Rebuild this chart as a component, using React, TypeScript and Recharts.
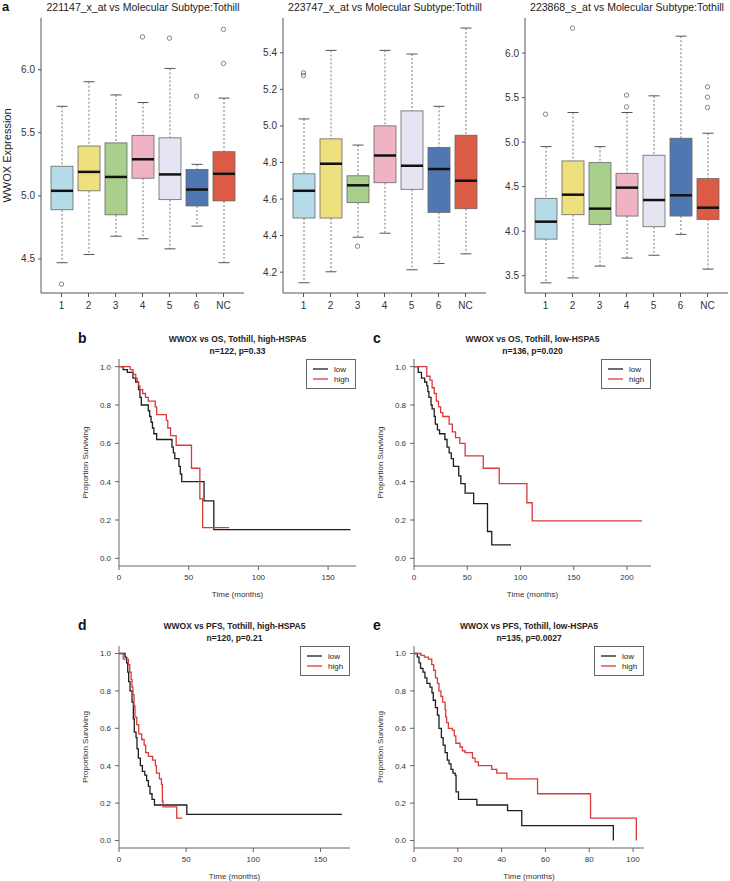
import React from "react";
import { ComposedChart, LineChart, Line, Bar, XAxis, YAxis, Legend } from "recharts";

const FONT = '"Liberation Sans", Arial, Helvetica, sans-serif';

const subtypes = ["1", "2", "3", "4", "5", "6", "NC"];

// [lower whisker, Q1, median, Q3, upper whisker] per subtype
const probe221147Stats = [
  [4.47, 4.89, 5.04, 5.235, 5.71],
  [4.535, 5.04, 5.19, 5.395, 5.905],
  [4.68, 4.85, 5.15, 5.42, 5.8],
  [4.66, 5.14, 5.29, 5.48, 5.74],
  [4.58, 4.97, 5.17, 5.46, 6.01],
  [4.76, 4.92, 5.05, 5.21, 5.25],
  [4.47, 4.96, 5.175, 5.35, 5.775],
];
const probe221147Outliers = [[4.3], [], [], [6.26], [6.25], [5.79], [6.32, 6.05]];

const probe223747Stats = [
  [4.142, 4.496, 4.645, 4.738, 5.038],
  [4.202, 4.496, 4.793, 4.929, 5.413],
  [4.391, 4.58, 4.675, 4.727, 4.895],
  [4.413, 4.689, 4.838, 5.0, 5.413],
  [4.213, 4.653, 4.782, 5.082, 5.393],
  [4.247, 4.527, 4.764, 4.882, 5.107],
  [4.3, 4.547, 4.7, 4.949, 5.535],
];
const probe223747Outliers = [[5.29, 5.275], [], [4.342], [], [], [], []];

const probe223868Stats = [
  [3.42, 3.911, 4.107, 4.369, 4.95],
  [3.476, 4.185, 4.41, 4.789, 5.333],
  [3.608, 4.076, 4.253, 4.77, 4.95],
  [3.698, 4.17, 4.489, 4.65, 5.333],
  [3.73, 4.05, 4.35, 4.853, 5.52],
  [3.964, 4.17, 4.403, 5.044, 6.19],
  [3.574, 4.133, 4.264, 4.59, 5.1],
];
const probe223868Outliers = [[5.314], [6.28], [], [5.528, 5.396], [], [], [5.62, 5.505, 5.389]];

const boxColors = ["#b5dbe9", "#efe07f", "#a8cf8c", "#efb3c4", "#e4e4f3", "#4f78b3", "#dc5b44"];

// Kaplan-Meier steps: [months, proportion surviving]
const osHighHspaLow = [[0, 1], [3, 0.985], [6, 0.97], [10, 0.94], [12, 0.92], [14, 0.88], [15, 0.84], [16, 0.8], [21, 0.77], [22, 0.74], [23, 0.71], [24, 0.68], [25, 0.65], [27, 0.62], [38, 0.58], [39, 0.55], [40, 0.52], [43, 0.48], [44, 0.44], [45, 0.4], [61, 0.3], [68, 0.15], [166, 0.15]];
const osHighHspaHigh = [[0, 1], [8, 0.985], [10, 0.96], [12, 0.94], [13, 0.92], [14, 0.9], [15, 0.88], [17, 0.86], [19, 0.84], [21, 0.82], [26, 0.79], [27, 0.75], [34, 0.72], [35, 0.68], [37, 0.64], [41, 0.59], [52, 0.47], [58, 0.31], [60, 0.16], [79, 0.16]];
const osLowHspaLow = [[0, 1], [4, 0.97], [7, 0.94], [10, 0.92], [12, 0.9], [13, 0.87], [14, 0.84], [16, 0.8], [17, 0.78], [19, 0.74], [20, 0.7], [22, 0.67], [24, 0.65], [29, 0.62], [31, 0.58], [33, 0.55], [35, 0.52], [37, 0.48], [42, 0.43], [44, 0.39], [48, 0.34], [56, 0.285], [69, 0.14], [73, 0.07], [91, 0.07]];
const osLowHspaHigh = [[0, 1], [12, 0.95], [15, 0.93], [17, 0.89], [19, 0.86], [21, 0.82], [23, 0.79], [25, 0.76], [27, 0.74], [33, 0.7], [36, 0.66], [39, 0.63], [43, 0.6], [48, 0.535], [65, 0.47], [80, 0.39], [106, 0.29], [111, 0.195], [214, 0.195]];
const pfsHighHspaLow = [[0, 1], [4.5, 0.98], [5.7, 0.95], [6.5, 0.9], [7.2, 0.85], [8.2, 0.8], [9.7, 0.74], [10.7, 0.65], [11.4, 0.58], [12.7, 0.55], [13.4, 0.49], [14.4, 0.44], [15.9, 0.4], [17.4, 0.37], [19.2, 0.35], [20.6, 0.32], [21.9, 0.29], [23.1, 0.25], [24.6, 0.22], [26.4, 0.19], [50.5, 0.14], [166, 0.14]];
const pfsHighHspaHigh = [[0, 1], [3.2, 0.97], [7, 0.94], [8, 0.9], [9, 0.86], [9.7, 0.82], [10.4, 0.78], [11.2, 0.72], [11.9, 0.66], [13.2, 0.62], [14.7, 0.57], [16.9, 0.54], [18.7, 0.51], [19.9, 0.47], [21.9, 0.45], [25.1, 0.43], [27.1, 0.4], [27.9, 0.36], [30.1, 0.33], [31.6, 0.3], [32.3, 0.21], [32.8, 0.18], [43, 0.12], [47, 0.12]];
const pfsLowHspaLow = [[0, 1], [1.5, 0.98], [2.3, 0.95], [3, 0.92], [4.1, 0.9], [5, 0.87], [5.9, 0.84], [7.3, 0.82], [8.2, 0.79], [8.8, 0.75], [9.8, 0.71], [10.7, 0.67], [11.4, 0.6], [12.5, 0.55], [13.3, 0.51], [14.2, 0.47], [15.2, 0.43], [16, 0.41], [16.9, 0.38], [17.8, 0.36], [18.8, 0.35], [19.2, 0.26], [20.3, 0.22], [28.7, 0.19], [42.7, 0.16], [49.2, 0.08], [91, 0]];
const pfsLowHspaHigh = [[0, 1], [3.2, 0.99], [4.7, 0.98], [6.6, 0.97], [8.1, 0.94], [9, 0.91], [9.8, 0.87], [10.7, 0.84], [11.4, 0.8], [12.3, 0.77], [13.1, 0.74], [14.2, 0.7], [14.5, 0.66], [14.9, 0.63], [15.7, 0.6], [17.5, 0.59], [18.4, 0.56], [19.1, 0.52], [21, 0.5], [22.1, 0.48], [23.3, 0.47], [26.7, 0.44], [27.9, 0.42], [29.4, 0.4], [35.5, 0.38], [37.8, 0.36], [42.4, 0.33], [56.4, 0.25], [80.6, 0.12], [101.5, 0]];

const kmTicks = [0, 0.2, 0.4, 0.6, 0.8, 1.0];
const groupOrder = ["low", "high"];

function BoxShape(props: any) {
  const { x, y, width, height, payload, index } = props;
  const { lo, q1, med, q3, hi } = payload;
  const py = (v: number) => y + ((hi - v) / (hi - lo)) * height;
  const cx = x + width / 2;
  const cap = width / 4;
  return (
    <g>
      <line x1={cx} x2={cx} y1={py(hi)} y2={py(q3)} stroke="#777" strokeDasharray="2 2" />
      <line x1={cx} x2={cx} y1={py(q1)} y2={py(lo)} stroke="#777" strokeDasharray="2 2" />
      <line x1={cx - cap} x2={cx + cap} y1={py(hi)} y2={py(hi)} stroke="#555" />
      <line x1={cx - cap} x2={cx + cap} y1={py(lo)} y2={py(lo)} stroke="#555" />
      <rect x={x} y={py(q3)} width={width} height={py(q1) - py(q3)} fill={boxColors[index]} stroke="#666" strokeWidth={0.8} />
      <line x1={x} x2={x + width} y1={py(med)} y2={py(med)} stroke="#111" strokeWidth={2.5} />
    </g>
  );
}

function BoxPlot({ left, title, stats, outliers, domain, ticks, yLabel }: any) {
  const rows = subtypes.map((name, i) => {
    const [lo, q1, med, q3, hi] = stats[i];
    const row: any = { name, lo, q1, med, q3, hi };
    outliers[i].forEach((v: number, k: number) => (row["o" + k] = v));
    return row;
  });
  const tick = { fontSize: 10, fill: "#333", fontFamily: FONT };
  return (
    <div style={{ position: "absolute", left, top: 0, width: 244, height: 320 }}>
      <div style={{ position: "absolute", left: 40, width: 204, top: 1, textAlign: "center", fontSize: 10.5, lineHeight: "12px", color: "#222", whiteSpace: "nowrap" }}>
        {title}
      </div>
      <ComposedChart width={244} height={320} data={rows} margin={{ top: 18, right: 1, bottom: 0, left: 0 }}>
        <XAxis dataKey="name" height={27} padding={{ left: 7, right: 7 }} tickSize={4} tickMargin={5} tick={tick} stroke="#555" />
        <XAxis xAxisId="top" dataKey="name" orientation="top" height={0} tick={false} tickLine={false} padding={{ left: 7, right: 7 }} stroke="#555" />
        <YAxis
          width={40}
          type="number"
          domain={domain}
          ticks={ticks}
          allowDataOverflow
          tickFormatter={(v: number) => v.toFixed(1)}
          tickSize={3}
          tickMargin={3}
          tick={tick}
          stroke="#555"
          label={yLabel ? { value: yLabel, angle: -90, position: "insideLeft", offset: 6, style: { textAnchor: "middle", fontSize: 11, fill: "#222", fontFamily: FONT } } : undefined}
        />
        <YAxis yAxisId="right" orientation="right" width={0} type="number" domain={domain} allowDataOverflow tick={false} tickLine={false} stroke="#555" />
        <Bar dataKey={(d: any) => [d.lo, d.hi]} barSize={22} shape={(p: any) => <BoxShape {...p} />} isAnimationActive={false} />
        {[0, 1, 2].map((k) => (
          <Line key={k} dataKey={"o" + k} stroke="none" dot={{ r: 2.2, fill: "none", stroke: "#666", strokeWidth: 0.8 }} activeDot={false} isAnimationActive={false} />
        ))}
      </ComposedChart>
    </div>
  );
}

function KMLegend({ payload }: any) {
  const items = [...(payload || [])].sort((a: any, b: any) => groupOrder.indexOf(a.value) - groupOrder.indexOf(b.value));
  return (
    <div style={{ border: "1px solid #666", background: "#fff", padding: "4px 4px 4px 6px", fontFamily: FONT, fontSize: 8, boxSizing: "border-box", width: 50, height: 30 }}>
      {items.map((e: any) => (
        <div key={e.value} style={{ display: "flex", alignItems: "center", height: 10, color: "#222" }}>
          <svg width={15} height={6} style={{ marginRight: 6 }}>
            <line x1={0} x2={15} y1={3} y2={3} stroke={e.color} strokeWidth={1.3} />
          </svg>
          <span style={{ color: "#222" }}>{e.value}</span>
        </div>
      ))}
    </div>
  );
}

const toPoints = (arr: number[][]) => arr.map(([t, s]) => ({ t, s }));

function KMPlot({ left, top, width, height, letter, title, subtitle, low, high, xMax, xTicks }: any) {
  const tick = { fontSize: 8, fill: "#333", fontFamily: FONT };
  const frameW = width - 48;
  return (
    <div style={{ position: "absolute", left, top, width, height }}>
      <div style={{ position: "absolute", left: 4, top: -24, fontSize: 14, fontWeight: "bold", lineHeight: "14px", color: "#111" }}>{letter}</div>
      <div style={{ position: "absolute", left: 5, width: frameW + 80, top: -21, textAlign: "center", fontSize: 8.5, fontWeight: "bold", lineHeight: "11.5px", color: "#222", whiteSpace: "nowrap" }}>
        <div>{title}</div>
        <div>{subtitle}</div>
      </div>
      <LineChart width={width} height={height} margin={{ top: 4, right: 3, bottom: 0, left: 0 }}>
        <XAxis
          dataKey="t"
          type="number"
          domain={[0, xMax]}
          ticks={xTicks}
          allowDataOverflow
          height={33}
          tickSize={4}
          tickMargin={4}
          tick={tick}
          stroke="#666"
          label={{ value: "Time (months)", position: "insideBottom", offset: 2, style: { fontSize: 8, fill: "#333", fontFamily: FONT } }}
        />
        <XAxis xAxisId="top" dataKey="t" type="number" orientation="top" domain={[0, xMax]} allowDataOverflow height={0} tick={false} tickLine={false} stroke="#666" />
        <YAxis
          width={45}
          type="number"
          domain={[-0.04, 1.04]}
          ticks={kmTicks}
          allowDataOverflow
          tickFormatter={(v: number) => v.toFixed(1)}
          tickSize={4}
          tickMargin={4}
          tick={tick}
          stroke="#666"
          label={{ value: "Proportion Surviving", angle: -90, position: "insideLeft", offset: 11, style: { textAnchor: "middle", fontSize: 8, fill: "#333", fontFamily: FONT } }}
        />
        <YAxis yAxisId="right" orientation="right" width={0} type="number" domain={[-0.04, 1.04]} allowDataOverflow tick={false} tickLine={false} stroke="#666" />
        <Legend
          layout="vertical"
          align="center"
          verticalAlign="middle"
          wrapperStyle={{ left: width - 3 - 50, top: 4, width: 50, height: 30 }}
          content={(p: any) => <KMLegend {...p} />}
        />
        <Line data={toPoints(low)} dataKey="s" name="low" type="stepAfter" stroke="#1e1e1e" strokeWidth={1.3} dot={false} activeDot={false} isAnimationActive={false} />
        <Line data={toPoints(high)} dataKey="s" name="high" type="stepAfter" stroke="#d93a3a" strokeWidth={1.3} dot={false} activeDot={false} isAnimationActive={false} />
      </LineChart>
    </div>
  );
}

export default function App() {
  return (
    <div style={{ position: "absolute", left: 0, top: 0, width: 730, height: 881, background: "#fff", fontFamily: FONT, overflow: "hidden" }}>
      <div style={{ position: "absolute", left: 2, top: 0, fontSize: 13, lineHeight: "13px", fontWeight: "bold", color: "#111" }}>a</div>
      <BoxPlot left={1} title="221147_x_at vs Molecular Subtype:Tothill" stats={probe221147Stats} outliers={probe221147Outliers} domain={[4.23, 6.41]} ticks={[4.5, 5.0, 5.5, 6.0]} yLabel="WWOX Expression" />
      <BoxPlot left={243} title="223747_x_at vs Molecular Subtype:Tothill" stats={probe223747Stats} outliers={probe223747Outliers} domain={[4.086, 5.59]} ticks={[4.2, 4.4, 4.6, 4.8, 5.0, 5.2, 5.4]} />
      <BoxPlot left={485} title="223868_s_at vs Molecular Subtype:Tothill" stats={probe223868Stats} outliers={probe223868Outliers} domain={[3.306, 6.394]} ticks={[3.5, 4.0, 4.5, 5.0, 5.5, 6.0]} />

      <KMPlot left={74} top={355} width={285} height={244} letter="b" title="WWOX vs OS, Tothill, high-HSPA5" subtitle="n=122, p=0.33" low={osHighHspaLow} high={osHighHspaHigh} xMax={170} xTicks={[0, 50, 100, 150]} />
      <KMPlot left={369} top={355} width={285} height={244} letter="c" title="WWOX vs OS, Tothill, low-HSPA5" subtitle="n=136, p=0.020" low={osLowHspaLow} high={osLowHspaHigh} xMax={222.5} xTicks={[0, 50, 100, 150, 200]} />
      <KMPlot left={74} top={642} width={279} height={239} letter="d" title="WWOX vs PFS, Tothill, high-HSPA5" subtitle="n=120, p=0.21" low={pfsHighHspaLow} high={pfsHighHspaHigh} xMax={172} xTicks={[0, 50, 100, 150]} />
      <KMPlot left={369} top={642} width={278} height={239} letter="e" title="WWOX vs PFS, Tothill, low-HSPA5" subtitle="n=135, p=0.0027" low={pfsLowHspaLow} high={pfsLowHspaHigh} xMax={105} xTicks={[0, 20, 40, 60, 80, 100]} />
    </div>
  );
}
